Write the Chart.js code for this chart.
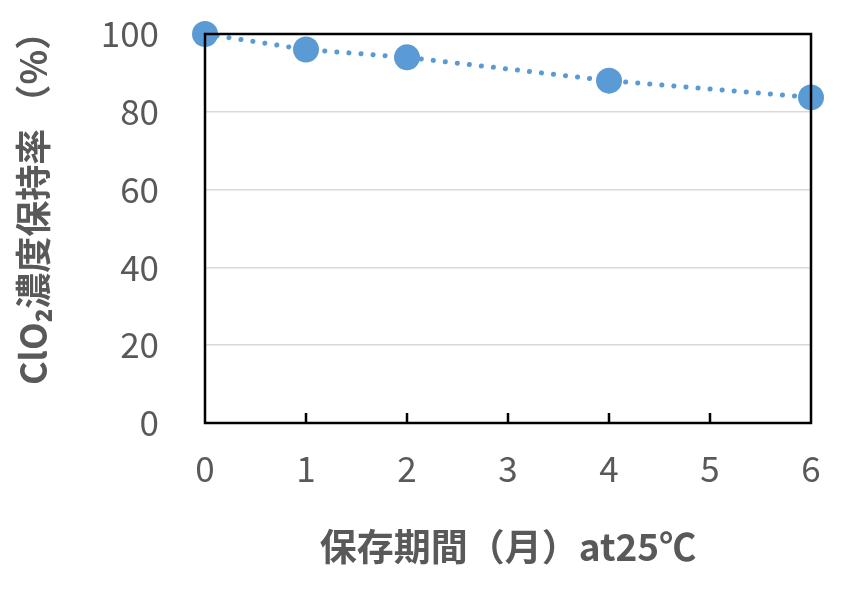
<!DOCTYPE html>
<html>
<head>
<meta charset="utf-8">
<script src="https://cdn.jsdelivr.net/npm/chart.js@4"></script>
<style>
  html, body { margin: 0; padding: 0; background: #fff; }
  #wrap { width: 850px; height: 591px; }
</style>
</head>
<body>
<div id="wrap"><canvas id="myChart" width="850" height="591"></canvas></div>
<script>
// data
const months = [0, 1, 2, 4, 6];
const retention = [100, 96, 94, 88, 83.7];
const xTicks = [0, 1, 2, 3, 4, 5, 6];
const yTicks = [0, 20, 40, 60, 80, 100];
const yTitle = 'ClO₂濃度保持率 （%）';
const xTitle = '保存期間（月）at25℃';

const FONT = "'Noto Sans CJK JP', 'Noto Sans', sans-serif";
const GREY = '#595959';
const BLUE = '#5B9BD5';

const points = months.map((m, i) => ({x: m, y: retention[i]}));

// box round plot, short inward ticks on x axis, y title
const frame = {
    id: 'frame',
    afterDraw(chart) {
        const {ctx, chartArea: a, scales} = chart;
        ctx.save();
        ctx.strokeStyle = '#000';
        ctx.lineWidth = 2.5;
        ctx.strokeRect(a.left, a.top, a.right - a.left, a.bottom - a.top);
        ctx.beginPath();
        xTicks.slice(1, -1).forEach(v => {
            const px = scales.x.getPixelForValue(v);
            ctx.moveTo(px, a.bottom);
            ctx.lineTo(px, a.bottom - 10);
        });
        ctx.stroke();

        // y title sits a bit higher than the plot centre in the original
        ctx.translate(33, 385);
        ctx.rotate(-Math.PI / 2);
        ctx.font = 'bold 36px ' + FONT;
        ctx.fillStyle = GREY;
        ctx.textAlign = 'left';
        ctx.textBaseline = 'middle';
        ctx.fillText(yTitle, 0, 0);
        ctx.restore();
    }
};

const data = {
    datasets: [{
        label: 'ClO2',
        data: points,
        showLine: true,
        borderColor: BLUE,
        backgroundColor: BLUE,
        borderWidth: 5,
        borderDash: [0.1, 12],
        borderCapStyle: 'round',
        pointRadius: 13,
        pointHoverRadius: 13,
        pointBorderWidth: 0,
        clip: false
    }]
};

const config = {
    type: 'scatter',
    data: data,
    options: {
        responsive: false,
        animation: false,
        events: [],
        layout: {padding: {left: 0, right: 39, top: 34, bottom: 22}},
        plugins: {legend: {display: false}, tooltip: {enabled: false}},
        scales: {
            x: {
                type: 'linear',
                min: 0, max: 6,
                afterBuildTicks: s => { s.ticks = xTicks.map(v => ({value: v})); },
                afterFit: s => { s.height = 591 - 423 - 22; s.paddingLeft = 0; s.paddingRight = 0; },
                grid: {display: false, drawTicks: false},
                border: {display: false},
                ticks: {color: GREY, padding: 25, font: {family: FONT, size: 35}},
                title: {
                    display: true,
                    text: xTitle,
                    color: GREY,
                    padding: 0,
                    font: {family: FONT, size: 37, weight: 'bold'}
                }
            },
            y: {
                min: 0, max: 100,
                afterBuildTicks: s => { s.ticks = yTicks.map(v => ({value: v})); },
                afterFit: s => { s.width = 205; s.paddingTop = 0; s.paddingBottom = 0; },
                grid: {
                    drawTicks: false,
                    color: '#d9d9d9',
                    lineWidth: 1.5
                },
                border: {display: false},
                ticks: {color: GREY, padding: 46, font: {family: FONT, size: 35}}
            }
        }
    },
    plugins: [frame]
};

const myChart = new Chart(document.getElementById('myChart'), config);
</script>
</body>
</html>
